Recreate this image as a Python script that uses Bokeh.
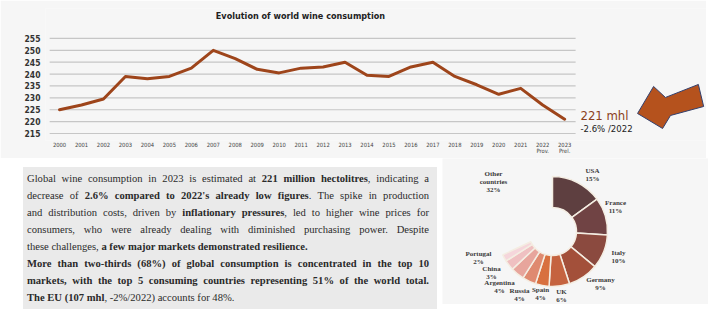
import numpy as np
from bokeh.plotting import figure
from bokeh.models import Label, Div, Spacer, FixedTicker
from bokeh.layouts import column, row
from bokeh.core.properties import value
from bokeh.embed import file_html
from bokeh.resources import INLINE

# ---------------- data ----------------
years = list(range(2000, 2024))
consumption = [225, 227, 229.5, 239, 238, 239, 242.5, 250, 246.5, 242, 240.5, 242.5,
               243, 245, 239.5, 239, 243, 245, 239, 235.5, 231.5, 234, 227, 221]
y_ticks = [215, 220, 225, 230, 235, 240, 245, 250, 255]
special_year_labels = {2022: "2022\nProv.", 2023: "2023\nPrel."}
title_text = "Evolution of world wine consumption"
unit_text = "mhl"
change_text = "-2.6% /2022"

countries = ["USA", "France", "Italy", "Germany", "UK", "Spain", "Russia", "Argentina", "China", "Portugal"]
shares = [15, 11, 10, 9, 6, 4, 4, 4, 3, 2]
other_label = "Other\ncountries"
other_share = 32

# ---------------- styles ----------------
BG = "#f6f6f6"
NARROW = "'DejaVu Sans Condensed', 'Liberation Sans Narrow', Roboto"
LINE_COL = "#9e451b"
wedge_colors = ["#5e3f40", "#704344", "#8b4a3f", "#a3503a", "#c5633f",
                "#d8703f", "#df8a70", "#e7a59c", "#efc0c1", "#f5d6db"]
label_dx = [40, 63, 66, 48, 9, -12, -33, -53, -61, -74]
label_dy = [57, 25, -25, -52, -64, -62, -63, -55, -41, -26]
arrow_x = [2026.32, 2027.05, 2027.59, 2029.09, 2029.33, 2027.82, 2027.46]
arrow_y = [223.42, 234.79, 230.16, 235.63, 226.37, 222.58, 217.11]

# ---------------- line chart ----------------
p = figure(frame_width=661, frame_height=132, x_range=(1999.36, 2029.46), y_range=(212.05, 267.6),
           output_backend="svg", toolbar_location=None,
           min_border_left=45, min_border_right=0, min_border_top=8, min_border_bottom=18,
           background_fill_color=BG, border_fill_color=BG, outline_line_color=None)
p.xgrid.visible = False
p.ygrid.visible = False

p.yaxis.ticker = FixedTicker(ticks=y_ticks)
p.yaxis.axis_line_color = None
p.yaxis.major_tick_line_color = None
p.yaxis.minor_tick_line_color = None
p.yaxis.major_tick_out = 0
p.yaxis.major_tick_in = 0
p.yaxis.minor_tick_out = 0
p.yaxis.major_label_standoff = 5
p.yaxis.major_label_text_font = NARROW
p.yaxis.major_label_text_font_style = "bold"
p.yaxis.major_label_text_font_size = "8.5px"
p.yaxis.major_label_text_color = "#333333"

p.xaxis.ticker = FixedTicker(ticks=years)
overrides = {y: str(y) for y in years}
overrides.update(special_year_labels)
p.xaxis.major_label_overrides = overrides
p.xaxis.axis_line_color = None
p.xaxis.major_tick_line_color = None
p.xaxis.minor_tick_line_color = None
p.xaxis.major_tick_out = 0
p.xaxis.major_tick_in = 0
p.xaxis.minor_tick_out = 0
p.xaxis.major_label_standoff = 1
p.xaxis.major_label_text_font = NARROW
p.xaxis.major_label_text_font_size = "5.8px"
p.xaxis.major_label_text_color = "#444444"
p.xaxis.major_label_text_line_height = 1.0

n = len(y_ticks)
p.segment(x0=[years[0] - 0.45] * n, x1=[years[-1] + 0.5] * n, y0=y_ticks, y1=y_ticks,
          line_color="#c6c6c6", line_width=1.2)
p.line(years, consumption, line_color=LINE_COL, line_width=3, line_join="round", line_cap="round")

p.text(x=[2010.97], y=[264.3], text=[title_text], text_align="center", text_baseline="middle",
       text_font=value(NARROW), text_font_style="bold", text_font_size="9px", text_color="#222222")
p.add_layout(Label(x=1998.45, y=258.8, text=unit_text, text_align="left", text_baseline="middle",
                   text_font=NARROW, text_font_style="bold", text_font_size="6.5px", text_color="#333333"))
p.text(x=[2023.72], y=[222.6], text=[f"{consumption[-1]:.0f} mhl"], text_align="left",
       text_baseline="middle", text_font=value(NARROW), text_font_size="13px", text_color="#8b3f1c")
p.text(x=[2023.72], y=[216.9], text=[change_text], text_align="left", text_baseline="middle",
       text_font=value(NARROW), text_font_size="9.5px", text_color="#222222")
p.patch(arrow_x, arrow_y, fill_color="#b5521d", line_color="#33406e", line_width=1)

# ---------------- paragraph ----------------
J = "text-align:justify;text-align-last:justify;white-space:nowrap;"
L = "text-align:left;white-space:nowrap;"
lines = [
    (J, "Global wine consumption in 2023 is estimated at <b>221 million hectolitres</b>, indicating a"),
    (J, "decrease of <b>2.6% compared to 2022's already low figures</b>. The spike in production"),
    (J, "and distribution costs, driven by <b>inflationary pressures</b>, led to higher wine prices for"),
    (J, "consumers, who were already dealing with diminished purchasing power. Despite"),
    (L, "these challenges, <b>a few major markets demonstrated resilience.</b>"),
    (J, "<b>More than two-thirds (68%) of global consumption is concentrated in the top 10</b>"),
    (J, "<b>markets, with the top 5 consuming countries representing 51% of the world total.</b>"),
    (L, "<b>The EU (107 mhl</b>, -2%/2022) accounts for 48%."),
]
inner = "".join(f'<div style="{s}">{t}</div>' for s, t in lines)
html = ('<div style="background:#eaeaea;width:414px;height:142px;margin-top:4px;'
        'padding:3px 8px 0 4px;box-sizing:border-box;font-family:\'Liberation Serif\';'
        'font-size:10.6px;line-height:17px;color:#2a2a2a;overflow:hidden;">' + inner + '</div>')
div = Div(text=html, width=414, height=146)

# ---------------- donut ----------------
sh = np.array(shares, dtype=float)
cum = np.concatenate([[0.0], np.cumsum(sh)])
start = np.pi / 2 - cum[:-1] / 100 * 2 * np.pi
end = np.pi / 2 - cum[1:] / 100 * 2 * np.pi

q = figure(width=266, height=146, x_range=(-110, 156), y_range=(-73, 73),
           output_backend="svg", toolbar_location=None,
           min_border_left=0, min_border_right=0, min_border_top=0, min_border_bottom=0,
           background_fill_color=BG, border_fill_color=BG, outline_line_color=None)
q.axis.visible = False
q.grid.visible = False
m = len(shares)
q.annular_wedge(x=[0] * m, y=[0] * m, inner_radius=24, outer_radius=55,
                start_angle=start, end_angle=end, direction="clock",
                fill_color=wedge_colors, line_color="#f4ede2", line_width=1.5)
q.text(x=label_dx, y=label_dy, text=[f"{c}\n{s}%" for c, s in zip(countries, shares)],
       text_align="center", text_baseline="middle", text_font=value("Liberation Serif"),
       text_font_style="bold", text_font_size="7px", text_color="#3a3a3a", text_line_height=1.0)
q.text(x=[-59], y=[50], text=[f"{other_label}\n{other_share}%"],
       text_align="center", text_baseline="middle", text_font=value("Liberation Serif"),
       text_font_style="bold", text_font_size="7px", text_color="#3a3a3a", text_line_height=1.0)

layout = column(p, row(Spacer(width=18, height=146), div, q))
open("out.html", "w").write(file_html(layout, INLINE))
